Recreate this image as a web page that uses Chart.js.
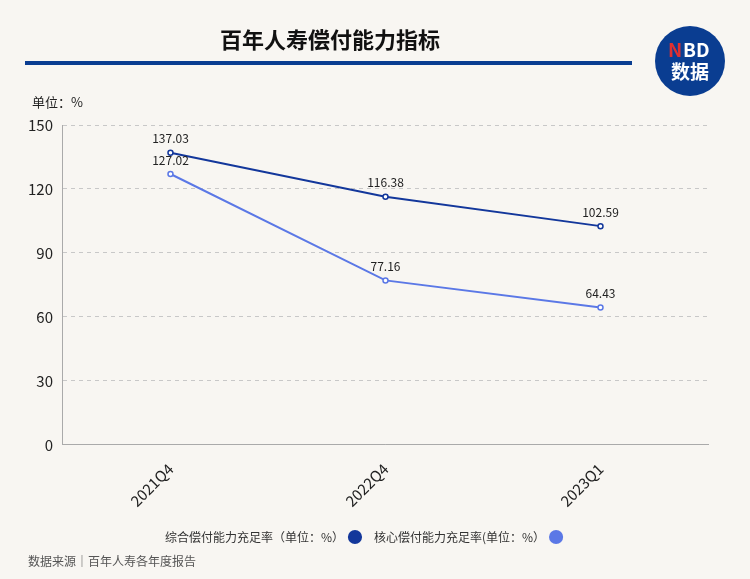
<!DOCTYPE html>
<html><head><meta charset="utf-8">
<script src="https://cdn.jsdelivr.net/npm/chart.js@4"></script>
<style>
html,body{margin:0;padding:0;background:#f8f6f2;}
#wrap{position:relative;width:750px;height:579px;}
</style></head>
<body><div id="wrap"><canvas id="c" width="750" height="579"></canvas></div>
<script>
// === Dados ===
var categorias = ['2021Q4', '2022Q4', '2023Q1'];
var zongheRate = [137.03, 116.38, 102.59];
var hexinRate = [127.02, 77.16, 64.43];
var nomeZonghe = '综合偿付能力充足率（单位：%）';
var nomeHexin = '核心偿付能力充足率(单位：%）';

var FONTE = "'Noto Sans CJK SC', 'Noto Sans', sans-serif";

// título, logo, rótulos e fonte
var decor = {
  id: 'decor',
  afterDraw: function(chart) {
    var ctx = chart.ctx;
    ctx.save();
    ctx.fillStyle = '#111';
    ctx.font = 'bold 22px ' + FONTE;
    ctx.textAlign = 'center';
    ctx.textBaseline = 'middle';
    ctx.fillText('百年人寿偿付能力指标', 330, 40);
    ctx.fillStyle = '#0a3d91';
    ctx.fillRect(25, 61, 607, 4);

    // logo NBD
    ctx.beginPath();
    ctx.arc(690, 61, 35, 0, Math.PI * 2);
    ctx.fillStyle = '#0a3d91';
    ctx.fill();
    ctx.font = 'bold 19px ' + FONTE;
    ctx.fillStyle = '#e03030';
    ctx.textAlign = 'left';
    ctx.fillText('N', 668, 50);
    ctx.fillStyle = '#fff';
    ctx.fillText('BD', 683, 50);
    ctx.textAlign = 'center';
    ctx.fillText('数据', 690, 72);

    ctx.fillStyle = '#222';
    ctx.font = '13px ' + FONTE;
    ctx.textAlign = 'left';
    ctx.fillText('单位：%', 32, 102);

    ctx.fillStyle = '#555';
    ctx.font = '12px ' + FONTE;
    ctx.fillText('数据来源｜百年人寿各年度报告', 28, 561);

    // rótulos de valores
    ctx.fillStyle = '#222';
    ctx.font = '12px ' + FONTE;
    ctx.textAlign = 'center';
    chart.data.datasets.forEach(function(ds, i) {
      chart.getDatasetMeta(i).data.forEach(function(p, j) {
        ctx.fillText(ds.data[j].toFixed(2), p.x, p.y - 14);
      });
    });
    ctx.restore();
  }
};

new Chart(document.getElementById('c'), {
  type: 'line',
  data: {
    labels: categorias,
    datasets: [{
      label: nomeZonghe,
      data: zongheRate,
      borderColor: '#13379b',
      backgroundColor: '#13379b',
      borderWidth: 2,
      pointRadius: 2.5,
      pointBackgroundColor: '#fff',
      pointBorderColor: '#13379b',
      pointBorderWidth: 1.5
    }, {
      label: nomeHexin,
      data: hexinRate,
      borderColor: '#5b78e6',
      backgroundColor: '#5b78e6',
      borderWidth: 2,
      pointRadius: 2.5,
      pointBackgroundColor: '#fff',
      pointBorderColor: '#5b78e6',
      pointBorderWidth: 1.5
    }]
  },
  options: {
    responsive: false,
    animation: false,
    layout: { padding: { top: 125, left: 18, right: 42, bottom: 26 } },
    plugins: {
      legend: {
        position: 'bottom',
        rtl: true,
        reverse: true,
        labels: {
          usePointStyle: true,
          pointStyle: 'circle',
          boxWidth: 10,
          boxHeight: 10,
          padding: 14,
          color: '#333',
          font: { size: 12, family: FONTE },
          generateLabels: function(chart) {
            return chart.data.datasets.map(function(ds, i) {
              return {
                text: ds.label, fillStyle: ds.borderColor, strokeStyle: ds.borderColor,
                lineWidth: 0, pointStyle: 'circle', datasetIndex: i, fontColor: '#333'
              };
            });
          }
        }
      },
      tooltip: { enabled: false }
    },
    scales: {
      x: {
        offset: true,
        grid: { display: false },
        border: { color: '#aaa' },
        ticks: { color: '#222', padding: 7, font: { size: 15, family: FONTE }, maxRotation: 45, minRotation: 45 }
      },
      y: {
        min: 0, max: 150,
        ticks: { stepSize: 30, padding: 10, color: '#222', font: { size: 15, family: FONTE } },
        grid: { color: '#c8c8c8', drawTicks: false },
        border: { color: '#aaa', dash: [4, 4] }
      }
    }
  },
  plugins: [decor]
});
</script></body></html>
